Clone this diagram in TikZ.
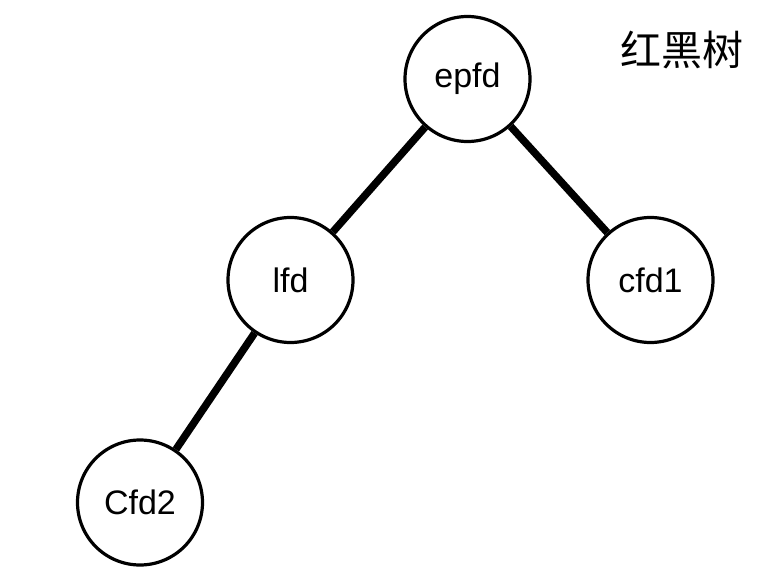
\documentclass[tikz,border=0pt]{standalone}
\usepackage{fontspec}
\setmainfont{Liberation Sans}
\newfontfamily\cjk{Noto Sans CJK SC}
\begin{document}
\begin{tikzpicture}[x=1pt,y=-1pt,
  treenode/.style={circle,draw=black,line width=3.2pt,fill=white,minimum size=125pt,inner sep=0pt,font=\fontsize{34}{38}\selectfont},
  treeedge/.style={line width=7.5pt,black}]
\useasboundingbox (0,0) rectangle (780,578);
\node[treenode] (epfd) at (467.5,79) {epfd};
\node[treenode] (lfd) at (290.5,280) {lfd};
\node[treenode] (cfd1) at (650.5,280) {cfd1};
\node[treenode] (cfd2) at (140,502.5) {Cfd2};
\draw[treeedge] (epfd) -- (lfd);
\draw[treeedge] (epfd) -- (cfd1);
\draw[treeedge] (lfd) -- (cfd2);
\node[font=\cjk\fontsize{41}{45}\selectfont,inner sep=0pt] (title) at (682,50) {红黑树};
\end{tikzpicture}
\end{document}
